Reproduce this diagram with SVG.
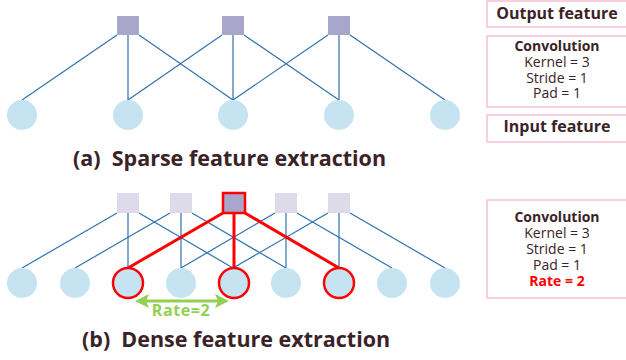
<svg xmlns="http://www.w3.org/2000/svg" width="626" height="360" viewBox="0 0 626 360">
<style>
.bg{fill:#ffffff}
.sq{fill:#a9a6cb}
.sql{fill:#dddbe9}
.cir{fill:#c5e3f1}
.ln{stroke:#2f72b0;stroke-width:1.2;fill:none}
.red{stroke:#ff0000;stroke-width:3;fill:none}
.box{fill:#ffffff;stroke:#f4c2d2;stroke-width:1.5}
.t{font-family:"Open Sans","Noto Sans",sans-serif;fill:#3a2328;text-anchor:middle}
.b{font-weight:bold}
.s{font-size:14px}
.h{font-size:16px;font-weight:bold}
.title{font-family:"Open Sans","Noto Sans",sans-serif;font-weight:bold;fill:#3a2328;font-size:21.5px;white-space:pre}
</style>
<rect class="bg" x="0" y="0" width="626" height="360"/>
<g id="connectors">
<line class="ln" x1="117" y1="35" x2="22" y2="100"/>
<line class="ln" x1="128" y1="35" x2="128" y2="100"/>
<line class="ln" x1="139" y1="35" x2="233" y2="100"/>
<line class="ln" x1="222" y1="35" x2="128" y2="100"/>
<line class="ln" x1="233" y1="35" x2="233" y2="100"/>
<line class="ln" x1="244" y1="35" x2="339" y2="100"/>
<line class="ln" x1="328" y1="35" x2="233" y2="100"/>
<line class="ln" x1="339" y1="35" x2="339" y2="100"/>
<line class="ln" x1="350" y1="35" x2="445" y2="100"/>
<line class="ln" x1="117" y1="213" x2="22" y2="268"/>
<line class="ln" x1="128" y1="213" x2="128" y2="268"/>
<line class="ln" x1="139" y1="213" x2="233" y2="268"/>
<line class="ln" x1="170" y1="213" x2="75" y2="268"/>
<line class="ln" x1="181" y1="213" x2="181" y2="268"/>
<line class="ln" x1="192" y1="213" x2="286" y2="268"/>
<line class="ln" x1="275" y1="213" x2="181" y2="268"/>
<line class="ln" x1="286" y1="213" x2="286" y2="268"/>
<line class="ln" x1="297" y1="213" x2="392" y2="268"/>
<line class="ln" x1="328" y1="213" x2="233" y2="268"/>
<line class="ln" x1="339" y1="213" x2="339" y2="268"/>
<line class="ln" x1="350" y1="213" x2="445" y2="268"/>
<line class="red" x1="223" y1="213" x2="128" y2="268"/>
<line class="red" x1="234" y1="213" x2="234" y2="268"/>
<line class="red" x1="245" y1="213" x2="339" y2="268"/>
</g>
<g id="a-out1"><rect class="sq" x="117" y="16" width="22" height="19"/></g>
<g id="a-out2"><rect class="sq" x="222" y="16" width="22" height="19"/></g>
<g id="a-out3"><rect class="sq" x="328" y="16" width="22" height="19"/></g>
<g id="a-in1"><circle class="cir" cx="22" cy="115" r="15"/></g>
<g id="a-in2"><circle class="cir" cx="128" cy="115" r="15"/></g>
<g id="a-in3"><circle class="cir" cx="233" cy="115" r="15"/></g>
<g id="a-in4"><circle class="cir" cx="339" cy="115" r="15"/></g>
<g id="a-in5"><circle class="cir" cx="445" cy="115" r="15"/></g>
<g id="b-out1"><rect class="sql" x="117" y="193" width="22" height="20"/></g>
<g id="b-out2"><rect class="sql" x="170" y="193" width="22" height="20"/></g>
<g id="b-out3"><rect class="sq" x="223" y="193" width="22" height="20" stroke="#ff0000" stroke-width="2.5"/></g>
<g id="b-out4"><rect class="sql" x="275" y="193" width="22" height="20"/></g>
<g id="b-out5"><rect class="sql" x="328" y="193" width="22" height="20"/></g>
<g id="b-in1"><circle class="cir" cx="22" cy="283" r="15"/></g>
<g id="b-in2"><circle class="cir" cx="75" cy="283" r="15"/></g>
<g id="b-in3"><circle class="cir" cx="128" cy="283" r="15" stroke="#ff0000" stroke-width="2.5"/></g>
<g id="b-in4"><circle class="cir" cx="181" cy="283" r="15"/></g>
<g id="b-in5"><circle class="cir" cx="234" cy="283" r="15" stroke="#ff0000" stroke-width="2.5"/></g>
<g id="b-in6"><circle class="cir" cx="286" cy="283" r="15"/></g>
<g id="b-in7"><circle class="cir" cx="339" cy="283" r="15" stroke="#ff0000" stroke-width="2.5"/></g>
<g id="b-in8"><circle class="cir" cx="392" cy="283" r="15"/></g>
<g id="b-in9"><circle class="cir" cx="445" cy="283" r="15"/></g>
<g id="rate">
<line x1="145" y1="301" x2="219" y2="301" stroke="#92d050" stroke-width="3"/>
<polygon points="135,301 149,294 146,301 149,308" fill="#92d050"/>
<polygon points="229,301 215,294 218,301 215,308" fill="#92d050"/>
<text x="181" y="316" class="t b" style="fill:#92d050;font-size:16px;letter-spacing:0.6px">Rate=2</text>
</g>
<text x="73" y="166" class="title">(a)  Sparse feature extraction</text>
<text x="82" y="347" class="title">(b)  Dense feature extraction</text>
<g id="out-box"><rect class="box" x="487" y="1" width="145" height="26"/>
<text x="557" y="19" class="t h">Output feature</text></g>
<g id="conv-a"><rect class="box" x="487" y="36" width="145" height="71"/>
<text x="557" y="51" class="t b s">Convolution</text>
<text x="557" y="67" class="t s">Kernel = 3</text>
<text x="557" y="83" class="t s">Stride = 1</text>
<text x="557" y="98" class="t s">Pad = 1</text></g>
<g id="in-box"><rect class="box" x="487" y="115" width="145" height="27"/>
<text x="557" y="132" class="t h">Input feature</text></g>
<g id="conv-b"><rect class="box" x="487" y="200" width="145" height="98"/>
<text x="557" y="222" class="t b s">Convolution</text>
<text x="557" y="238" class="t s">Kernel = 3</text>
<text x="557" y="254" class="t s">Stride = 1</text>
<text x="557" y="270" class="t s">Pad = 1</text>
<text x="557" y="286" class="t b s" style="fill:#ff0000">Rate = 2</text></g>
</svg>
